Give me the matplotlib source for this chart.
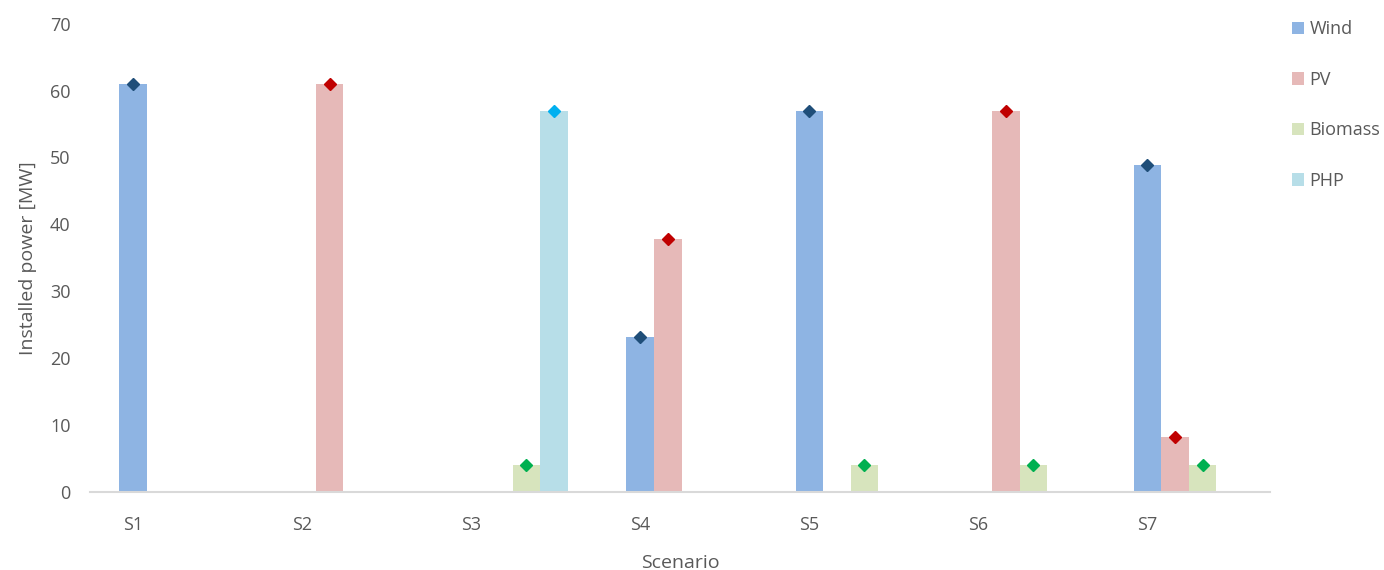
import matplotlib
matplotlib.use('Agg')
from matplotlib import pyplot as plt
import numpy as np

plt.rcParams['font.family'] = ['Open Sans', 'DejaVu Sans']

scenarios = ['S1', 'S2', 'S3', 'S4', 'S5', 'S6', 'S7']
series = ['Wind', 'PV', 'Biomass', 'PHP']
wind = [61, 0, 0, 23.2, 57, 0, 48.8]
pv = [0, 61, 0, 37.8, 0, 57, 8.2]
biomass = [0, 0, 4, 0, 4, 4, 4]
php = [0, 0, 57, 0, 0, 0, 0]

bar_colors = ['#8EB4E3', '#E6B9B8', '#D7E4BD', '#B7DEE8']
marker_colors = ['#1F4E79', '#C00000', '#00B050', '#00B0F0']

fig = plt.figure(figsize=(13.84, 5.70), dpi=100)
ax = fig.add_axes([0.065, 0.137, 0.8526, 0.8215])

x = np.arange(len(scenarios))
w = 0.163
for k, (name, vals) in enumerate(zip(series, [wind, pv, biomass, php])):
    vals = np.array(vals, dtype=float)
    xs = x + k * w
    ax.bar(xs, vals, width=w, color=bar_colors[k], label=name, linewidth=0)
    # diamond marker on top of every non-zero bar
    m = vals > 0
    ax.plot(xs[m], vals[m], linestyle='none', marker='D', markersize=6,
            color=marker_colors[k], zorder=3)

ax.set_xlim(-0.255, 6.725)
ax.set_ylim(0, 70)
ax.set_yticks(np.arange(0, 71, 10))
ax.set_xticks(x)
ax.set_xticklabels(scenarios)

for s in ['top', 'right', 'left']:
    ax.spines[s].set_visible(False)
ax.spines['bottom'].set_color('#D9D9D9')
ax.spines['bottom'].set_linewidth(1.5)
ax.tick_params(axis='both', length=0, labelsize=13, colors='#595959')
ax.tick_params(axis='y', pad=14)
ax.tick_params(axis='x', pad=17)

ax.set_xlabel('Scenario', fontsize=14, color='#595959', labelpad=15)
ax.set_ylabel('Installed power [MW]', fontsize=14, color='#595959', labelpad=9)

leg = fig.legend(loc='upper left', bbox_to_anchor=(0.9215, 0.993), frameon=False,
                 fontsize=13, handlelength=0.7, handleheight=0.7,
                 handletextpad=0.3, labelspacing=1.8)
for t in leg.get_texts():
    t.set_color('#595959')

fig.savefig('out.png', dpi=100)
